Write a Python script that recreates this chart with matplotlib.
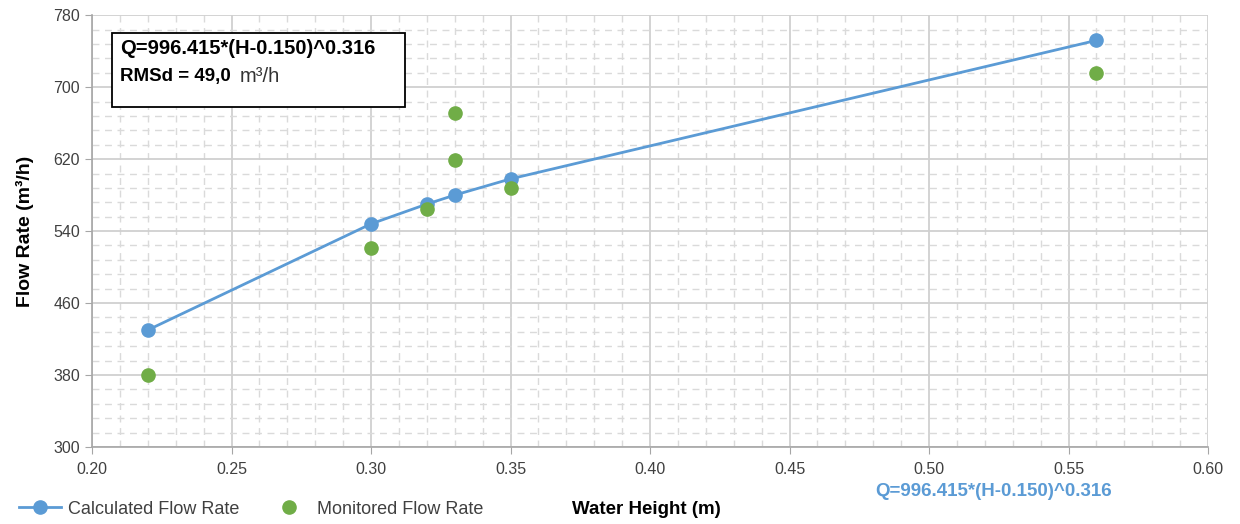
import matplotlib.pyplot as plt
import matplotlib.ticker as ticker
from matplotlib.patches import Rectangle

# values
height_calc = [0.22, 0.30, 0.32, 0.33, 0.35, 0.56]
flow_calc = [430, 548, 570, 580, 598, 752]
height_mon = [0.22, 0.30, 0.32, 0.33, 0.33, 0.35, 0.56]
flow_mon = [380, 521, 565, 619, 671, 588, 716]
y_ticks = [300, 380, 460, 540, 620, 700, 780]
equation = 'Q=996.415*(H-0.150)^0.316'
rmsd_label = 'RMSd = 49,0'

plt.rcParams['font.family'] = ['Liberation Sans', 'DejaVu Sans']

blue = '#5B9BD5'
green = '#70AD47'

fig = plt.figure(figsize=(12.4, 5.24), dpi=100)
ax = fig.add_axes([0.0742, 0.147, 0.9, 0.824])

ax.plot(height_calc, flow_calc, color=blue, linewidth=2, marker='o', markersize=9.5,
        label='Calculated Flow Rate', zorder=3)
ax.plot(height_mon, flow_mon, linestyle='none', color=green, marker='o', markersize=9.5,
        label='Monitored Flow Rate', zorder=4)

ax.set_xlim(0.20, 0.60)
ax.set_ylim(300, 780)
ax.xaxis.set_major_locator(ticker.MultipleLocator(0.05))
ax.xaxis.set_minor_locator(ticker.MultipleLocator(0.01))
ax.yaxis.set_major_locator(ticker.FixedLocator(y_ticks))
ax.yaxis.set_minor_locator(ticker.MultipleLocator(16, offset=12))
ax.xaxis.set_major_formatter(ticker.FormatStrFormatter('%.2f'))

ax.grid(which='major', color='#D0D0D0', linewidth=1.3)
ax.grid(which='minor', color='#DADADA', linewidth=1, linestyle=(0, (5, 4)))
ax.set_axisbelow(True)

for side in ['top', 'right']:
    ax.spines[side].set_visible(False)
for side in ['left', 'bottom']:
    ax.spines[side].set_color('#A6A6A6')
    ax.spines[side].set_linewidth(1.2)

ax.tick_params(which='major', length=5, color='#A6A6A6', labelsize=11.5, labelcolor='#404040')
ax.tick_params(which='minor', length=0)
ax.tick_params(axis='x', pad=6)

ax.set_ylabel('Flow Rate (m³/h)', fontsize=14, fontweight='bold', labelpad=14)

# equation box
fig.patches.append(Rectangle((112 / 1240, 1 - 107 / 524), 293 / 1240, 74 / 524,
                             transform=fig.transFigure, facecolor='white',
                             edgecolor='black', linewidth=1.3, zorder=5))
fig.text(120 / 1240, 1 - 48 / 524, equation, fontsize=14.5, fontweight='bold',
         va='center', zorder=6)
fig.text(120 / 1240, 1 - 77 / 524, rmsd_label, fontsize=13.5, fontweight='bold',
         va='center', zorder=6)
fig.text(240 / 1240, 1 - 77 / 524, 'm³/h', fontsize=14.5, va='center', color='#333333', zorder=6)

# trendline label under the axis
fig.text(994 / 1240, 1 - 491 / 524, equation, fontsize=13.5, fontweight='bold',
         color=blue, ha='center', va='center')

fig.legend(loc='center left', bbox_to_anchor=(12 / 1240, 1 - 509 / 524), ncol=2,
           frameon=False, fontsize=13, handlelength=2.3, columnspacing=1.6,
           handletextpad=0.4, labelcolor='#404040', borderaxespad=0)
fig.text(572 / 1240, 1 - 509 / 524, 'Water Height (m)', fontsize=13.5, fontweight='bold',
         va='center')

fig.savefig('out.png', dpi=100)
